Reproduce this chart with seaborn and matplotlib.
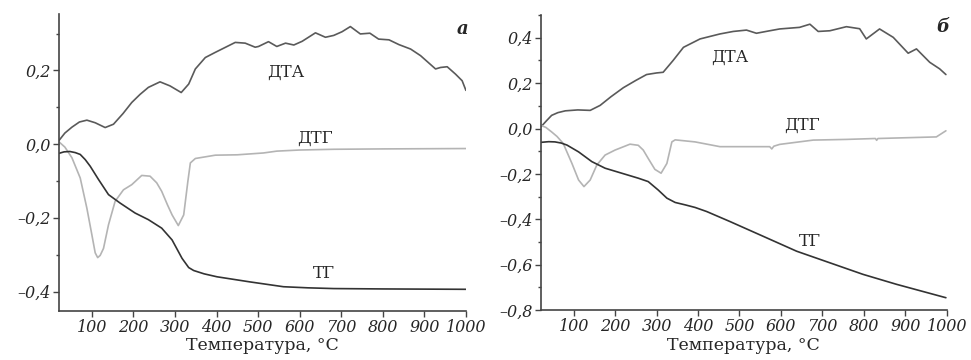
import numpy as np
import pandas as pd
import matplotlib
matplotlib.use("Agg")
import matplotlib.pyplot as plt
import seaborn as sns
from matplotlib.ticker import MultipleLocator, FuncFormatter

# ==========================================
# データ
# ==========================================
# --- панель а ---
A_DTA_T = [21, 35, 52, 70, 88, 108, 132, 152, 175, 196, 216, 236, 264, 288, 315, 333, 349,
           373, 397, 413, 445, 469, 493, 501, 525, 545, 566, 586, 606, 638, 662, 682, 702,
           722, 746, 769, 790, 815, 839, 867, 891, 907, 927, 939, 955, 975, 991, 1000]
A_DTA_V = [0.010, 0.030, 0.046, 0.060, 0.065, 0.058, 0.045, 0.054, 0.083, 0.113, 0.135,
           0.154, 0.169, 0.158, 0.140, 0.163, 0.204, 0.235, 0.249, 0.258, 0.276, 0.274,
           0.263, 0.265, 0.278, 0.265, 0.274, 0.269, 0.279, 0.302, 0.290, 0.295, 0.305,
           0.319, 0.299, 0.301, 0.285, 0.283, 0.270, 0.258, 0.240, 0.224, 0.204, 0.208,
           0.210, 0.190, 0.172, 0.146]

A_DTG_T = [21, 35, 52, 72, 88, 100, 108, 114, 120, 128, 140, 156, 176, 196, 220, 240, 256,
           268, 282, 293, 308, 321, 331, 337, 349, 397, 450, 513, 545, 600, 682, 800, 1000]
A_DTG_V = [0.006, -0.008, -0.037, -0.092, -0.174, -0.246, -0.295, -0.308, -0.302, -0.283,
           -0.219, -0.155, -0.124, -0.110, -0.085, -0.087, -0.105, -0.128, -0.165, -0.192,
           -0.221, -0.192, -0.101, -0.051, -0.039, -0.030, -0.029, -0.024, -0.019, -0.016,
           -0.014, -0.013, -0.012]

A_TG_T = [21, 33, 47, 60, 72, 84, 96, 116, 140, 168, 204, 236, 268, 293, 317, 333, 345,
          370, 401, 481, 561, 620, 682, 800, 1000]
A_TG_V = [-0.025, -0.021, -0.020, -0.023, -0.028, -0.042, -0.060, -0.096, -0.137, -0.160,
          -0.187, -0.205, -0.228, -0.260, -0.310, -0.335, -0.343, -0.352, -0.360, -0.374,
          -0.387, -0.390, -0.392, -0.393, -0.394]

# --- панель б ---
B_DTA_T = [21, 35, 47, 62, 80, 110, 140, 164, 190, 220, 250, 276, 300, 316, 340, 365, 405,
           453, 485, 517, 541, 570, 597, 645, 670, 690, 718, 758, 790, 806, 838, 871, 907,
           927, 959, 983, 998]
B_DTA_V = [0.007, 0.035, 0.058, 0.070, 0.078, 0.082, 0.080, 0.102, 0.140, 0.180, 0.212,
           0.238, 0.245, 0.248, 0.300, 0.358, 0.395, 0.417, 0.428, 0.434, 0.420, 0.430,
           0.439, 0.446, 0.460, 0.428, 0.431, 0.449, 0.440, 0.395, 0.439, 0.402, 0.332,
           0.351, 0.292, 0.263, 0.238]

B_DTG_T = [21, 33, 47, 60, 75, 96, 112, 125, 140, 156, 176, 200, 236, 256, 268, 280, 296,
           311, 325, 337, 345, 393, 453, 573, 578, 583, 597, 678, 758, 828, 831, 834, 975, 998]
B_DTG_V = [0.014, 0.005, -0.015, -0.035, -0.066, -0.154, -0.227, -0.256, -0.227, -0.161,
           -0.117, -0.095, -0.069, -0.074, -0.095, -0.132, -0.180, -0.197, -0.154, -0.059,
           -0.050, -0.059, -0.080, -0.080, -0.090, -0.078, -0.070, -0.051, -0.048, -0.044,
           -0.052, -0.044, -0.037, -0.010]

B_TG_T = [21, 40, 55, 70, 84, 112, 144, 176, 216, 256, 280, 304, 325, 345, 370, 393, 421,
          477, 557, 638, 718, 798, 879, 998]
B_TG_V = [-0.061, -0.058, -0.059, -0.064, -0.073, -0.103, -0.146, -0.175, -0.197, -0.219,
          -0.234, -0.271, -0.307, -0.326, -0.337, -0.348, -0.366, -0.410, -0.475, -0.541,
          -0.592, -0.643, -0.687, -0.746]

COL_DTA = "#5a5a5a"
COL_DTG = "#b4b4b4"
COL_TG = "#333333"

sns.set_style("ticks")
plt.rcParams['font.family'] = ['DejaVu Serif', 'DejaVu Sans']


def fmt(v, pos):
    s = f"{v:.1f}".replace('.', ',')
    if v < -1e-9:
        s = "\u2013" + s[1:]
    elif abs(v) < 1e-9:
        s = "0,0"
    return s


def draw_panel(ax, series, ylim, ymajor, labels, letter):
    for t, v, c in series:
        df = pd.DataFrame({"T": t, "v": v})
        sns.lineplot(data=df, x="T", y="v", color=c, lw=1.2, ax=ax, sort=False)
    ax.set_xlim(21, 1000)
    ax.set_ylim(*ylim)
    ax.set_xticks(range(100, 1001, 100))
    ax.xaxis.set_major_formatter(FuncFormatter(lambda v, p: f"{int(v)}"))
    ax.yaxis.set_major_locator(MultipleLocator(ymajor))
    ax.yaxis.set_minor_locator(MultipleLocator(ymajor / 2))
    ax.yaxis.set_major_formatter(FuncFormatter(fmt))
    for sp in ["top", "right"]:
        ax.spines[sp].set_visible(False)
    for sp in ["left", "bottom"]:
        ax.spines[sp].set_color("#444444")
        ax.spines[sp].set_linewidth(1.2)
    ax.tick_params(axis='both', which='major', length=4, width=1, color="#444444",
                   labelsize=11.5, pad=2)
    ax.tick_params(axis='y', which='minor', length=2.5, width=1, color="#444444")
    for lab in ax.get_xticklabels() + ax.get_yticklabels():
        lab.set_fontstyle('italic')
    ax.set_xlabel("Температура, °C", fontsize=12.5, labelpad=1)
    ax.set_ylabel("")
    for txt, x, y in labels:
        ax.text(x, y, txt, fontsize=12, ha='center', va='center')
    ax.text(991, letter[1], letter[0], fontsize=13, ha='center', va='center',
            style='italic', weight='bold')


fig = plt.figure(figsize=(9.71, 3.60), dpi=100)
ax1 = fig.add_axes([0.0608, 0.137, 0.419, 0.824])
ax2 = fig.add_axes([0.557, 0.139, 0.418, 0.819])

draw_panel(ax1,
           [(A_DTA_T, A_DTA_V, COL_DTA), (A_DTG_T, A_DTG_V, COL_DTG), (A_TG_T, A_TG_V, COL_TG)],
           (-0.452, 0.353), 0.2,
           [("ДТА", 566, 0.194), ("ДТГ", 638, 0.017), ("ТГ", 658, -0.351)],
           ("а", 0.313))
draw_panel(ax2,
           [(B_DTA_T, B_DTA_V, COL_DTA), (B_DTG_T, B_DTG_V, COL_DTG), (B_TG_T, B_TG_V, COL_TG)],
           (-0.8, 0.5), 0.2,
           [("ДТА", 477, 0.314), ("ДТГ", 650, 0.014), ("ТГ", 670, -0.497)],
           ("б", 0.446))

fig.savefig("out.png", dpi=100)
